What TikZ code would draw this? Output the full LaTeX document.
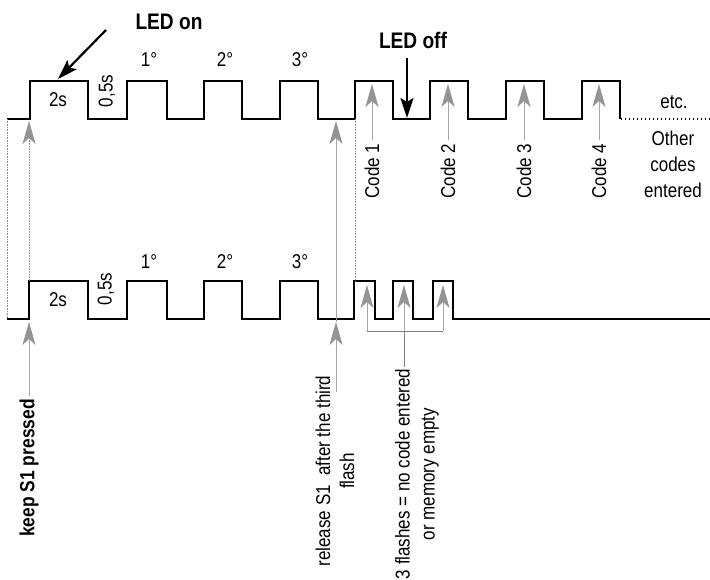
\documentclass[tikz,border=0pt]{standalone}
\usepackage{fontspec}
\setmainfont{Liberation Sans}[FakeStretch=0.85]
\usetikzlibrary{arrows.meta,positioning}

\begin{document}
\begin{tikzpicture}[
  x=1pt,y=-1pt,
  every node/.style={font=\fontsize{20}{25}\selectfont},
  bigbold/.style={font=\fontsize{22.5}{26}\selectfont\bfseries},
  keepbold/.style={font=\fontsize{20.5}{24}\selectfont\bfseries},
  wave/.style={line width=2.1pt,black},
  garrow/.style={draw=black!35,line width=0.8pt,-{Stealth[length=23pt,width=13pt,inset=6pt,color=black!42]}},
  gdot/.style={draw=black!45,line width=0.6pt,densely dotted},
  gline/.style={draw=black!50,line width=0.8pt},
  barrow/.style={line width=2.2pt,-{Stealth[length=20pt,width=13pt,inset=4pt]}},
  etcdots/.style={line width=1.4pt,dash pattern=on 1.4pt off 2.6pt}
]
  \useasboundingbox (0,0) rectangle (710,579);

  \draw[wave] (7,119) -- (30,119) -- (30,81) -- (88,81) -- (88,119) -- (127,119) -- (127,81) -- (167,81) -- (167,119)
    -- (204,119) -- (204,81) -- (242,81) -- (242,119) -- (280,119) -- (280,81) -- (318,81) -- (318,119)
    -- (355,119) -- (355,81) -- (393,81) -- (393,119) -- (430,119) -- (430,81) -- (468,81) -- (468,119)
    -- (506,119) -- (506,81) -- (544,81) -- (544,119) -- (582,119) -- (582,81) -- (620,81) -- (620,119);
  \draw[etcdots] (621,119) -- (710,119);

  \draw[wave] (7,319) -- (29,319) -- (29,281) -- (88,281) -- (88,319) -- (127,319) -- (127,281) -- (167,281) -- (167,319)
    -- (204,319) -- (204,281) -- (242,281) -- (242,319) -- (280,319) -- (280,281) -- (318,281) -- (318,319)
    -- (354,319) -- (354,281) -- (375,281) -- (375,319) -- (393,319) -- (393,281) -- (413,281) -- (413,319)
    -- (433,319) -- (433,281) -- (453,281) -- (453,319) -- (710,319);

  \draw[gdot] (7,119) -- (7,319);
  \draw[gdot] (355,119) -- (355,281);

  \node[bigbold] (ledon) at (169,22) {LED on};
  \node[bigbold] (ledoff) at (413,40) {LED off};
  \coordinate (ledontail) at (106,30);
  \coordinate (ledontip) at (58,79);
  \coordinate (ledofftail) at (407,58);
  \coordinate (ledofftip) at (407,118);
  \draw[barrow] (ledontail) -- (ledontip);
  \draw[barrow] (ledofftail) -- (ledofftip);

  \node (twos) at (58,100) {2s};
  \node[rotate=90] (half) at (107,91) {0,5s};
  \node (first) at (149,60) {1°};
  \node (second) at (225,60) {2°};
  \node (third) at (300,60) {3°};

  \node (twosb) at (58,300) {2s};
  \node[rotate=90] (halfb) at (106,289) {0,5s};
  \node (firstb) at (149,262) {1°};
  \node (secondb) at (225,262) {2°};
  \node (thirdb) at (300,262) {3°};

  \node[rotate=90] (code1) at (372,171) {Code 1};
  \node[rotate=90] (code2) at (448,171) {Code 2};
  \node[rotate=90] (code3) at (524,171) {Code 3};
  \node[rotate=90] (code4) at (599,171) {Code 4};
  \coordinate (tip1) at (372,84);
  \coordinate (tip2) at (448,84);
  \coordinate (tip3) at (524,84);
  \coordinate (tip4) at (599,84);
  \draw[garrow] (code1) -- (tip1);
  \draw[garrow] (code2) -- (tip2);
  \draw[garrow] (code3) -- (tip3);
  \draw[garrow] (code4) -- (tip4);

  \node (etc) at (674,102) {etc.};
  \node[align=center,font=\fontsize{20}{26}\selectfont] (other) at (673,164) {Other\\codes\\entered};

  \node[keepbold,rotate=90] (keep) at (29,468) {keep S1 pressed};
  \coordinate (keeptip) at (29,322);
  \coordinate (keepdot) at (29,281);
  \coordinate (keeptop) at (29,121);
  \draw[garrow] (keep) -- (keeptip);
  \draw[gdot,-{Stealth[length=23pt,width=13pt,inset=6pt,color=black!42]}] (keepdot) -- (keeptop);

  \node[rotate=90,align=center,font=\fontsize{20}{24}\selectfont] (release) at (335,471) {release S1\ \ after the third\\flash};
  \coordinate (relfoot) at (336,392);
  \coordinate (relmid) at (336,322);
  \coordinate (reltip) at (336,121);
  \draw[garrow] (relfoot) -- (relmid);
  \draw[garrow] (relmid) -- (reltip);

  \node[rotate=90,align=center] (flashes) at (417,474) {3 flashes = no code entered\\or memory empty};
  \coordinate (fa) at (367,331);
  \coordinate (fb) at (404,331);
  \coordinate (fc) at (443,331);
  \coordinate (fend) at (404,367);
  \draw[gline] (fa) -- (fc);
  \draw[gline] (fb) -- (fend);
  \draw[garrow] (fa) -- (367,285);
  \draw[garrow] (fb) -- (404,285);
  \draw[garrow] (fc) -- (443,285);
\end{tikzpicture}
\end{document}
